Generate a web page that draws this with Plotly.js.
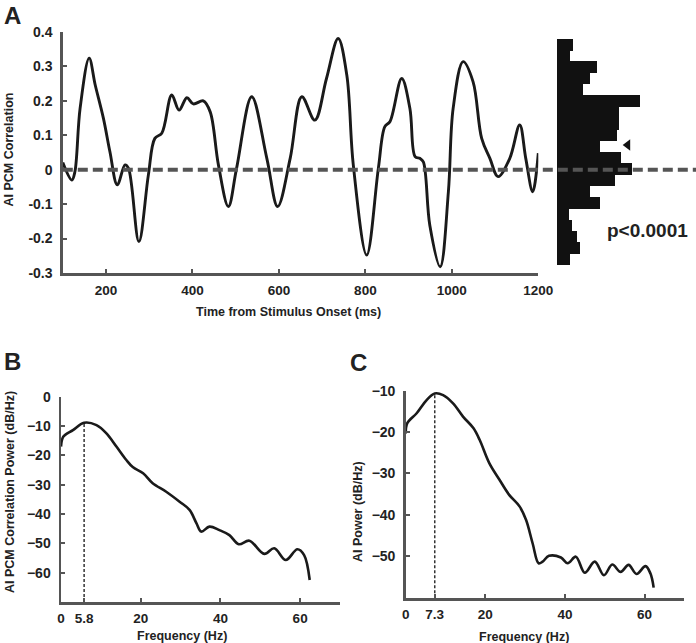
<!DOCTYPE html>
<html>
<head>
<meta charset="utf-8">
<script src="https://cdn.plot.ly/plotly-3.0.1.min.js"></script>
<style>
  html, body { margin: 0; padding: 0; background: #fff; }
  #chart { width: 696px; height: 643px; }
</style>
</head>
<body>
<div id="chart"></div>
<script>
// ---------- Panel A: AI PCM correlation over time ----------
var timeMs = [100,121,128,140,161,175,194,209,226,244,252,276,298,313,329,352,369,387,402,425,441,460,483,502,537,572,597,626,653,683,710,737,757,772,803,830,845,857,884,903,915,926,934,949,973,992,1003,1026,1049,1069,1088,1107,1134,1157,1171,1187,1200];
var corrValues = [0.021,-0.030,-0.006,0.178,0.324,0.246,0.149,0.052,-0.044,0.014,0.004,-0.209,-0.015,0.091,0.106,0.217,0.173,0.209,0.191,0.200,0.168,0.014,-0.107,0.004,0.212,0.033,-0.107,0.033,0.212,0.144,0.265,0.381,0.275,0.014,-0.248,0.004,0.125,0.140,0.265,0.178,0.038,0.033,0.023,-0.161,-0.282,-0.064,0.178,0.314,0.256,0.091,0.033,-0.020,0.033,0.130,0.033,-0.064,0.048];
var aTickVals = [-0.3,-0.2,-0.1,0,0.1,0.2,0.3,0.4];
var aTickText = ['-0.3','-0.2','-0.1','0','0.1','0.2','0.3','0.4'];
var aXTicks = [200,400,600,800,1000,1200];

// ---------- Panel A histogram (side) ----------
var histBinCenters = [0.363,0.331,0.298,0.265,0.232,0.199,0.166,0.134,0.101,0.068,0.035,0.002,-0.031,-0.064,-0.096,-0.129,-0.162,-0.195,-0.228,-0.260];
var histCounts = [16,13,40,33,26,83,62,62,60,43,64,75,58,33,43,12,15,20,23,13];
var histBarWidth = 0.0345;
var meanMarkerValue = 0.072;
var meanMarkerCount = 71;
var pText = 'p<0.0001';

// ---------- Panel B: AI PCM correlation power spectrum ----------
var freqB = [0,0.6,3,5.8,8.9,11.4,13.9,16.4,18,20.6,23,26.4,29.75,32.25,34,35.2,37.25,39.75,42.25,44.6,47.25,51,53.5,56.4,59.3,61,62.4];
var powerB = [-17,-13.6,-11.4,-8.9,-9.7,-12.5,-17,-21.6,-24,-26.1,-29.5,-32.4,-35.8,-38.6,-43.2,-46,-44.3,-45.5,-47.2,-50.3,-49.1,-53.6,-51.7,-55.7,-52,-54,-62.5];
var peakB = 5.8, peakPowerB = -8.9;
var bXTicks = [0,5.8,20,40,60];
var bXText = ['0','5.8','20','40','60'];
var bYTicks = [-60,-50,-40,-30,-20,-10,0];

// ---------- Panel C: AI power spectrum ----------
var freqC = [0,0.4,2.75,5.25,7.3,9.4,11.9,14.4,17,18.6,21,23.6,26,28.6,30.25,31.9,33.4,34.4,36,39,40.7,42.75,45,47.5,49.8,51.9,54,56,58,60.25,61.5,62.3];
var powerC = [-20.3,-17.8,-15.4,-12.2,-10.6,-11,-13,-16.2,-19,-21.9,-27.5,-31.6,-35.2,-38,-41.3,-47,-51.8,-51.4,-50,-50.4,-51.8,-50.2,-54.1,-51.4,-54.7,-52.1,-53.9,-52.2,-54.4,-52.5,-54.3,-57.7];
var peakC = 7.3, peakPowerC = -10.6;
var cXTicks = [0,7.3,20,40,60];
var cXText = ['0','7.3','20','40','60'];
var cYTicks = [-50,-40,-30,-20,-10];

// ---------- helpers (layout geometry only) ----------
var W = 696, H = 643;
function px(x) { return x / W; }
function py(y) { return 1 - y / H; }

var FONT = 'Liberation Sans, Arial, Helvetica, sans-serif';
var TXT = '#222222';
var AXC = '#555555';
var tickFont = {family: FONT, size: 14, color: TXT, weight: 'bold'};
var xTickFont = {family: FONT, size: 13.5, color: TXT, weight: 'bold'};
var titleFont = {family: FONT, size: 12.5, color: TXT, weight: 'bold'};

function axisBase() {
  return {
    showline: true, linecolor: AXC, linewidth: 2.5,
    ticks: 'inside', ticklen: 4, tickwidth: 2, tickcolor: AXC,
    showgrid: false, zeroline: false, tickfont: tickFont,
    automargin: false, fixedrange: true
  };
}

var traces = [
  {x: timeMs, y: corrValues, xaxis: 'x', yaxis: 'y', type: 'scatter', mode: 'lines',
   line: {color: '#1a1a1a', width: 2.9, shape: 'spline', smoothing: 1}, hoverinfo: 'skip'},
  {x: histCounts, y: histBinCenters, xaxis: 'x2', yaxis: 'y', type: 'bar', orientation: 'h',
   width: histBarWidth, marker: {color: '#111111', line: {width: 0}}, hoverinfo: 'skip'},
  {x: [meanMarkerCount], y: [meanMarkerValue], xaxis: 'x2', yaxis: 'y', type: 'scatter', mode: 'markers',
   marker: {symbol: 'triangle-left', size: 10, color: '#111111'}, hoverinfo: 'skip', cliponaxis: false},
  {x: freqB, y: powerB, xaxis: 'x3', yaxis: 'y3', type: 'scatter', mode: 'lines',
   line: {color: '#1a1a1a', width: 2.6, shape: 'spline', smoothing: 1}, hoverinfo: 'skip'},
  {x: [peakB, peakB], y: [-70, peakPowerB], xaxis: 'x3', yaxis: 'y3', type: 'scatter', mode: 'lines',
   line: {color: '#333333', width: 1.5, dash: '3px,2px'}, hoverinfo: 'skip'},
  {x: freqC, y: powerC, xaxis: 'x4', yaxis: 'y4', type: 'scatter', mode: 'lines',
   line: {color: '#1a1a1a', width: 2.6, shape: 'spline', smoothing: 1}, hoverinfo: 'skip'},
  {x: [peakC, peakC], y: [-60.3, peakPowerC], xaxis: 'x4', yaxis: 'y4', type: 'scatter', mode: 'lines',
   line: {color: '#333333', width: 1.5, dash: '3px,2px'}, hoverinfo: 'skip'}
];

var xA = Object.assign(axisBase(), {domain: [px(62.8), px(538.3)], range: [100, 1200], anchor: 'y',
  tickvals: aXTicks, ticklabelstandoff: 3, tickfont: xTickFont});
var yA = Object.assign(axisBase(), {domain: [py(273), py(32)], range: [-0.3, 0.4], anchor: 'x',
  tickvals: aTickVals, ticktext: aTickText, ticklabelstandoff: 5});
var xH = {domain: [px(556.7), 1], range: [0, 139.3], anchor: 'y', visible: false, fixedrange: true};
var xB = Object.assign(axisBase(), {domain: [px(61), px(340)], range: [0, 70], anchor: 'y3',
  tickvals: bXTicks, ticktext: bXText, ticklabelstandoff: 2, tickfont: xTickFont});
var yB = Object.assign(axisBase(), {domain: [py(602), py(396.7)], range: [-70, 0], anchor: 'x3',
  tickvals: bYTicks, ticklabelstandoff: 5});
var xC = Object.assign(axisBase(), {domain: [px(405.7), px(684.3)], range: [0, 70], anchor: 'y4',
  tickvals: cXTicks, ticktext: cXText, ticklabelstandoff: 2, tickfont: xTickFont});
var yC = Object.assign(axisBase(), {domain: [py(598.3), py(391)], range: [-60.3, -10], anchor: 'x4',
  tickvals: cYTicks, ticklabelstandoff: 5});

var annotations = [
  {text: 'A', x: px(2), y: 1, xref: 'paper', yref: 'paper', xanchor: 'left', yanchor: 'top',
   showarrow: false, font: {family: FONT, size: 24, color: TXT, weight: 'bold'}},
  {text: 'B', x: px(2), y: py(361), xref: 'paper', yref: 'paper', xanchor: 'left', yanchor: 'middle',
   showarrow: false, font: {family: FONT, size: 24, color: TXT, weight: 'bold'}},
  {text: 'C', x: px(348), y: py(362), xref: 'paper', yref: 'paper', xanchor: 'left', yanchor: 'middle',
   showarrow: false, font: {family: FONT, size: 24, color: TXT, weight: 'bold'}},
  {text: 'AI PCM Correlation', x: px(8.5), y: py(150), xref: 'paper', yref: 'paper', textangle: -90,
   xanchor: 'center', yanchor: 'middle', showarrow: false, font: titleFont},
  {text: 'Time from Stimulus Onset (ms)', x: px(288), y: py(311.5), xref: 'paper', yref: 'paper',
   xanchor: 'center', yanchor: 'middle', showarrow: false, font: titleFont},
  {text: pText, x: px(605), y: py(230), xref: 'paper', yref: 'paper', xanchor: 'left', yanchor: 'middle',
   showarrow: false, font: {family: FONT, size: 19, color: TXT, weight: 'bold'}},
  {text: 'AI PCM Correlation Power (dB/Hz)', x: px(10), y: py(492), xref: 'paper', yref: 'paper', textangle: -90,
   xanchor: 'center', yanchor: 'middle', showarrow: false, font: titleFont},
  {text: 'Frequency (Hz)', x: px(181.5), y: py(635.5), xref: 'paper', yref: 'paper',
   xanchor: 'center', yanchor: 'middle', showarrow: false, font: titleFont},
  {text: 'AI Power (dB/Hz)', x: px(358), y: py(512), xref: 'paper', yref: 'paper', textangle: -90,
   xanchor: 'center', yanchor: 'middle', showarrow: false, font: titleFont},
  {text: 'Frequency (Hz)', x: px(524), y: py(636.5), xref: 'paper', yref: 'paper',
   xanchor: 'center', yanchor: 'middle', showarrow: false, font: titleFont}
];

var shapes = [
  {type: 'line', xref: 'paper', yref: 'y', x0: px(62.8), x1: 1, y0: 0, y1: 0, layer: 'above',
   line: {color: '#555555', width: 4, dash: '10px,5px'}}
];

var layout = {
  width: W, height: H, autosize: false,
  margin: {l: 0, r: 0, t: 0, b: 0, pad: 0},
  paper_bgcolor: '#ffffff', plot_bgcolor: 'rgba(0,0,0,0)',
  showlegend: false, bargap: 0,
  xaxis: xA, yaxis: yA, xaxis2: xH,
  xaxis3: xB, yaxis3: yB, xaxis4: xC, yaxis4: yC,
  annotations: annotations, shapes: shapes,
  font: {family: FONT, color: TXT}
};

Plotly.newPlot('chart', traces, layout, {displayModeBar: false, staticPlot: true});
</script>
</body>
</html>
